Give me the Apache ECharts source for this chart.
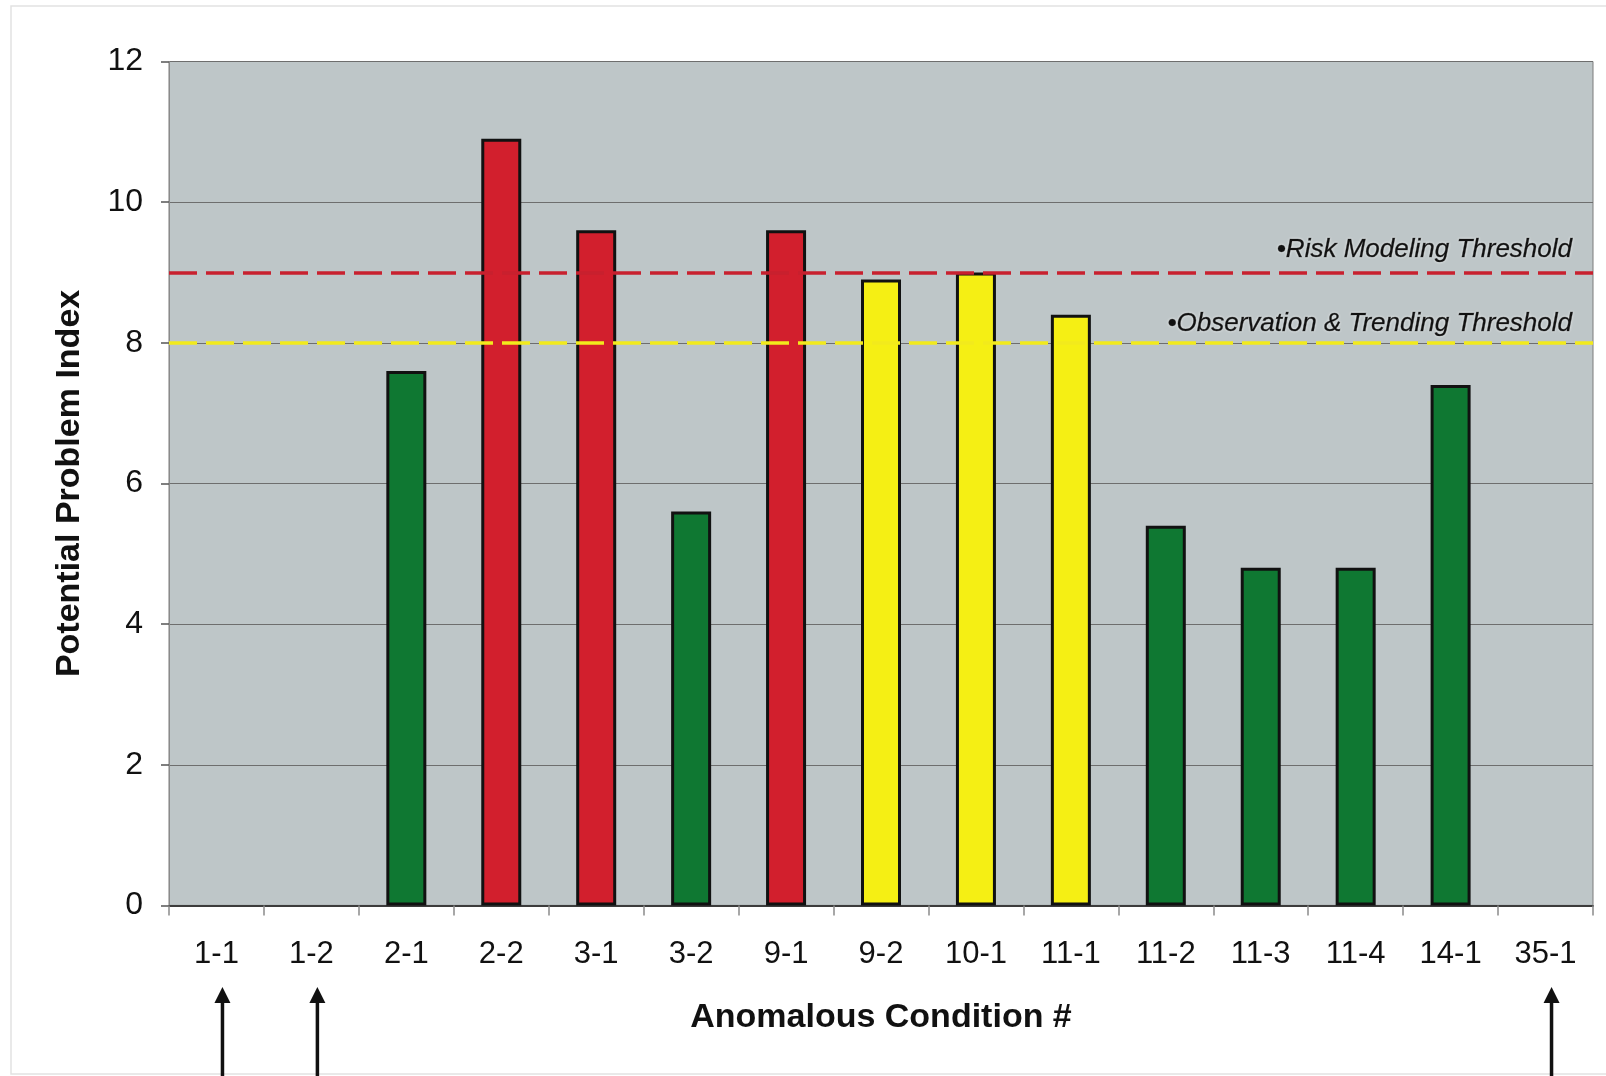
<!DOCTYPE html>
<html>
<head>
<meta charset="utf-8">
<script src="https://cdn.jsdelivr.net/npm/echarts@6/dist/echarts.min.js"></script>
<style>
html,body{margin:0;padding:0;background:#fff;}
#c{width:1606px;height:1076px;}
</style>
</head>
<body>
<div id="c"></div>
<script>
const categories = ['1-1','1-2','2-1','2-2','3-1','3-2','9-1','9-2','10-1','11-1','11-2','11-3','11-4','14-1','35-1'];
const values     = [0, 0, 7.6, 10.9, 9.6, 5.6, 9.6, 8.9, 9.0, 8.4, 5.4, 4.8, 4.8, 7.4, 0];
const levels     = ['green','green','green','red','red','green','red','yellow','yellow','yellow','green','green','green','green','green'];
const thresholdValues = [9, 8];
const thresholdLabels = ['\u2022Risk Modeling Threshold', '\u2022Observation & Trending Threshold'];
const arrowCats = ['1-1','1-2','35-1'];
const yTicks = [0, 2, 4, 6, 8, 10, 12];

const levelColor = {red:'#d21f2d', yellow:'#f5ef14', green:'#0f7832'};
const thresholdColor = ['#c8202e', '#f2ea1c'];
const thresholdDist = [[21, 10], [21, 6]];

const chart = echarts.init(document.getElementById('c'), null, {renderer:'canvas'});
const FONT = '"Liberation Sans", Arial, Helvetica, sans-serif';

const option = {
  backgroundColor: '#ffffff',
  animation: false,
  grid: {left:169, right:13, top:61.5, bottom:170.6, show:true, backgroundColor:'#bec6c8', borderColor:'#7d7d7d', borderWidth:1},
  xAxis: {
    type:'category', data: categories,
    boundaryGap: true,
    axisLine: {show:true, lineStyle:{color:'#3c3c3c', width:2}},
    axisTick: {show:true, length:10, lineStyle:{color:'#8a8a8a', width:1.5}},
    axisLabel: {fontFamily:FONT, fontSize:31, color:'#111', margin:34, interval:0},
    name: 'Anomalous Condition #', nameLocation:'middle', nameGap:95,
    nameTextStyle: {fontFamily:FONT, fontSize:34, fontWeight:'bold', color:'#111'}
  },
  yAxis: {
    type:'value', min:yTicks[0], max:yTicks[yTicks.length-1], interval:2,
    axisLine: {show:true, lineStyle:{color:'#8a8a8a', width:1}},
    axisTick: {show:true, length:8, lineStyle:{color:'#555', width:1.5}},
    axisLabel: {fontFamily:FONT, fontSize:32, color:'#111', margin:26},
    splitLine: {show:true, lineStyle:{color:'#6e6e6e', width:1.2}},
    name: 'Potential Problem Index', nameLocation:'middle', nameGap:82,
    nameTextStyle: {fontFamily:FONT, fontSize:34, fontWeight:'bold', color:'#111'}
  },
  series: [{
    type:'bar',
    barWidth: 40,
    data: values.map((v,i)=>({value:v, itemStyle:{color:levelColor[levels[i]], borderColor:'#111', borderWidth: v > 0 ? 3 : 0}})),
    markLine: {
      silent:true, symbol:['none','none'],
      data: thresholdValues.map((t,i)=>({
        yAxis:t,
        lineStyle:{color:thresholdColor[i], type:[28,9], width:3.5},
        label:{show:true, position:'insideEndTop', formatter:thresholdLabels[i],
          distance: thresholdDist[i],
          fontFamily:FONT, fontSize:26, fontStyle:'italic', color:'#111',
          textBorderColor:'rgba(17,17,17,0.7)', textBorderWidth:0.6,
          textShadowColor:'rgba(255,255,255,0.7)', textShadowBlur:3}
      }))
    }
  }]
};
chart.setOption(option);

// Annotation arrows beneath selected categories, positioned via the axis scale
const arrowTop = 987;
const graphics = [{
  type:'rect', shape:{x:11, y:6, width:1606, height:1068},
  style:{fill:'none', stroke:'#e2e2e2', lineWidth:1.5}, silent:true, z:-10
}];
arrowCats.forEach(cat => {
  const x = chart.convertToPixel({xAxisIndex:0}, cat) + 6;
  graphics.push({type:'line', shape:{x1:x, y1:arrowTop+12, x2:x, y2:1076}, style:{stroke:'#111', lineWidth:3.5}, silent:true});
  graphics.push({type:'polygon', shape:{points:[[x, arrowTop],[x-8, arrowTop+16],[x+8, arrowTop+16]]}, style:{fill:'#111'}, silent:true});
});
chart.setOption({graphic: graphics});
</script>
</body>
</html>
